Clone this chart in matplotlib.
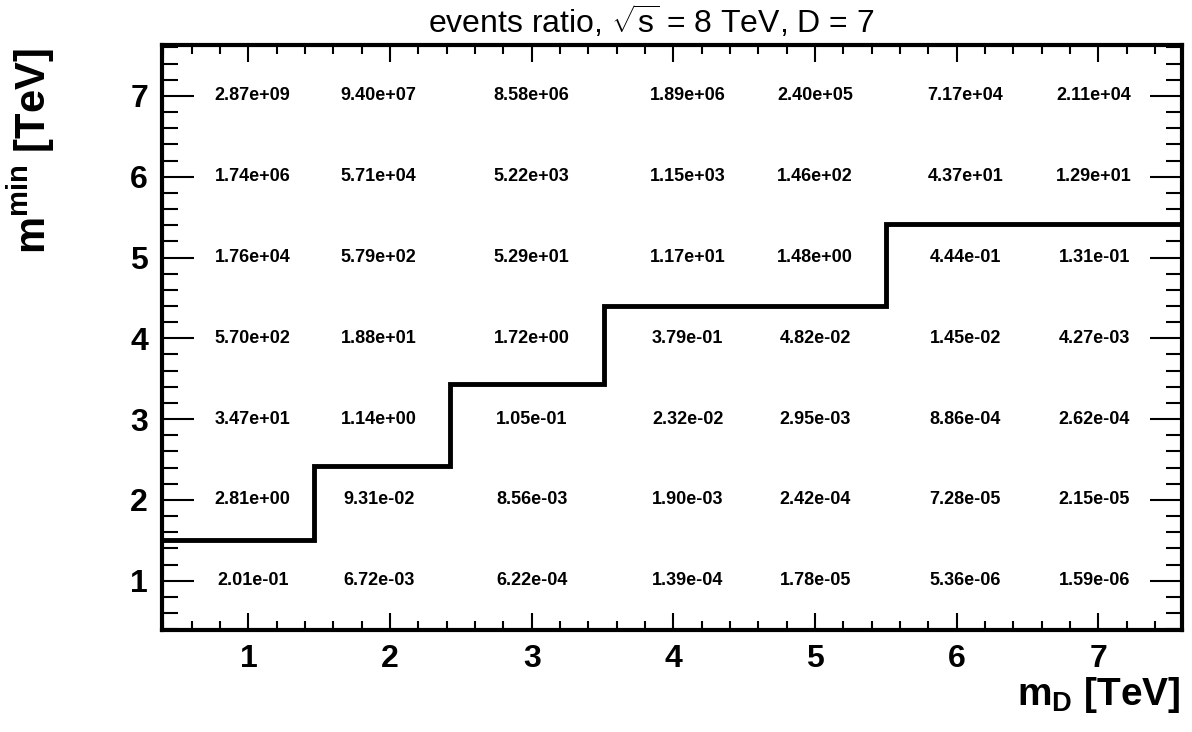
import numpy as np
import matplotlib
matplotlib.use('Agg')
import matplotlib.pyplot as plt
from matplotlib.ticker import MultipleLocator

plt.rcParams['font.family'] = ['Liberation Sans', 'DejaVu Sans']
plt.rcParams['mathtext.fontset'] = 'custom'
plt.rcParams['mathtext.rm'] = 'Liberation Sans'
plt.rcParams['mathtext.bf'] = 'Liberation Sans:bold'
plt.rcParams['mathtext.it'] = 'Liberation Sans:italic'

# column positions (m_D) where the numbers are printed, rows are m_min
m_d = [1.03, 1.92, 3.0, 4.1, 5.0, 6.06, 6.97]
m_min = [1, 2, 3, 4, 5, 6, 7]

# events ratio, one list per m_min row (1 -> 7), columns follow m_d
ratio_1 = [2.01e-01, 6.72e-03, 6.22e-04, 1.39e-04, 1.78e-05, 5.36e-06, 1.59e-06]
ratio_2 = [2.81e+00, 9.31e-02, 8.56e-03, 1.90e-03, 2.42e-04, 7.28e-05, 2.15e-05]
ratio_3 = [3.47e+01, 1.14e+00, 1.05e-01, 2.32e-02, 2.95e-03, 8.86e-04, 2.62e-04]
ratio_4 = [5.70e+02, 1.88e+01, 1.72e+00, 3.79e-01, 4.82e-02, 1.45e-02, 4.27e-03]
ratio_5 = [1.76e+04, 5.79e+02, 5.29e+01, 1.17e+01, 1.48e+00, 4.44e-01, 1.31e-01]
ratio_6 = [1.74e+06, 5.71e+04, 5.22e+03, 1.15e+03, 1.46e+02, 4.37e+01, 1.29e+01]
ratio_7 = [2.87e+09, 9.40e+07, 8.58e+06, 1.89e+06, 2.40e+05, 7.17e+04, 2.11e+04]
ratios = [ratio_1, ratio_2, ratio_3, ratio_4, ratio_5, ratio_6, ratio_7]

# boundary step line
step_edges = [0.39, 1.466, 2.425, 3.51, 5.50, 7.59]
step_levels = [1.5, 2.42, 3.44, 4.4, 5.41]

fig = plt.figure(figsize=(11.92, 7.32), dpi=100)
ax = fig.add_axes([162 / 1192, 1 - 630 / 732, 1020 / 1192, 585 / 732])

for row, y in zip(ratios, m_min):
    for val, x in zip(row, m_d):
        ax.text(x, y, '%.2e' % val, ha='center', va='center',
                fontsize=13, fontweight='bold')

ax.stairs(step_levels, step_edges, baseline=None, color='black', lw=3.5)

ax.set_xlim(0.39, 7.59)
ax.set_ylim(0.39, 7.63)
ax.xaxis.set_major_locator(MultipleLocator(1))
ax.xaxis.set_minor_locator(MultipleLocator(0.2))
ax.yaxis.set_major_locator(MultipleLocator(1))
ax.yaxis.set_minor_locator(MultipleLocator(0.2))

ax.tick_params(which='both', direction='in', top=True, right=True,
               width=1.5, labelsize=23)
ax.tick_params(axis='x', which='major', length=12.5, pad=10)
ax.tick_params(axis='x', which='minor', length=6.5)
ax.tick_params(axis='y', which='major', length=23, pad=10)
ax.tick_params(axis='y', which='minor', length=11.5)
for lab in ax.get_xticklabels() + ax.get_yticklabels():
    lab.set_fontweight('bold')
for sp in ax.spines.values():
    sp.set_linewidth(3)

fig.text(651 / 1192, 1 - 33 / 732, r'events ratio, $\sqrt{\mathrm{s}}$ = 8 TeV, D = 7',
         ha='center', va='baseline', fontsize=23)
fig.text(1180 / 1192, 1 - 705 / 732, r'$\mathbf{m}_{\mathbf{D}}$ [TeV]',
         ha='right', va='baseline', fontsize=28, fontweight='bold')
fig.text(57 / 1192, 1 - 48 / 732, r'$\mathbf{m}^{\mathbf{min}}$ [TeV]',
         ha='right', va='top', rotation=90, fontsize=30, fontweight='bold')

fig.savefig('out.png', dpi=100)
